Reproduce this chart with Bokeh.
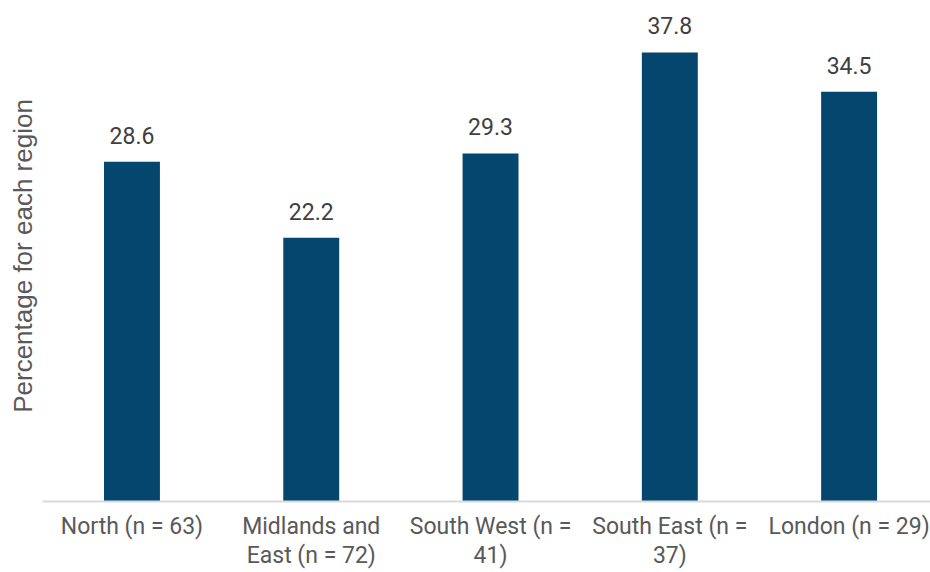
from bokeh.plotting import figure
from bokeh.models import ColumnDataSource, LabelSet, FixedTicker, Range1d
from bokeh.core.properties import value
from bokeh.embed import file_html
from bokeh.resources import INLINE

# ---- data ----
regions = ["North (n = 63)", "Midlands and\nEast (n = 72)", "South West (n =\n41)",
           "South East (n =\n37)", "London (n = 29)"]
percentages = [28.6, 22.2, 29.3, 37.8, 34.5]
y_label = "Percentage for each region"

BAR = "#05466E"
FONT = "Roboto"

positions = list(range(len(regions)))
src = ColumnDataSource(dict(x=positions, y=percentages,
                            txt=[f"{v:.1f}" for v in percentages]))

p = figure(width=930, height=572, output_backend="svg", toolbar_location=None,
           x_range=Range1d(-0.499, 4.454), y_range=Range1d(0, 41.33),
           min_border_left=42, min_border_right=0, min_border_top=10,
           min_border_bottom=69)

p.vbar(x="x", top="y", width=0.312, source=src, color=BAR, line_color=None)

labels = LabelSet(x="x", y="y", text="txt", source=src, y_offset=18,
                  text_align="center", text_baseline="alphabetic",
                  text_font=value(FONT), text_font_size=value("23px"),
                  text_color=value("#404040"))
p.add_layout(labels)

p.outline_line_color = None
p.xgrid.grid_line_color = None
p.ygrid.grid_line_color = None

xa = p.xaxis[0]
xa.ticker = FixedTicker(ticks=positions)
xa.major_label_overrides = {i: lab for i, lab in enumerate(regions)}
xa.major_tick_line_color = None
xa.minor_tick_line_color = None
xa.major_tick_out = 0
xa.axis_line_color = "#D9D9D9"
xa.axis_line_width = 2
xa.major_label_text_font = FONT
xa.major_label_text_font_size = "23px"
xa.major_label_text_color = "#595959"
xa.major_label_text_line_height = 1.1
xa.major_label_standoff = 11

ya = p.yaxis[0]
ya.ticker = FixedTicker(ticks=[])
ya.axis_label = y_label
ya.axis_label_text_font = "Liberation Sans"
ya.axis_label_text_font_size = "26px"
ya.axis_label_text_font_style = "normal"
ya.axis_label_text_color = "#595959"
ya.axis_label_standoff = 5
ya.major_label_standoff = 0
ya.major_tick_line_color = None
ya.minor_tick_line_color = None
ya.major_tick_out = 0
ya.axis_line_color = None

open("out.html", "w").write(file_html(p, INLINE))
